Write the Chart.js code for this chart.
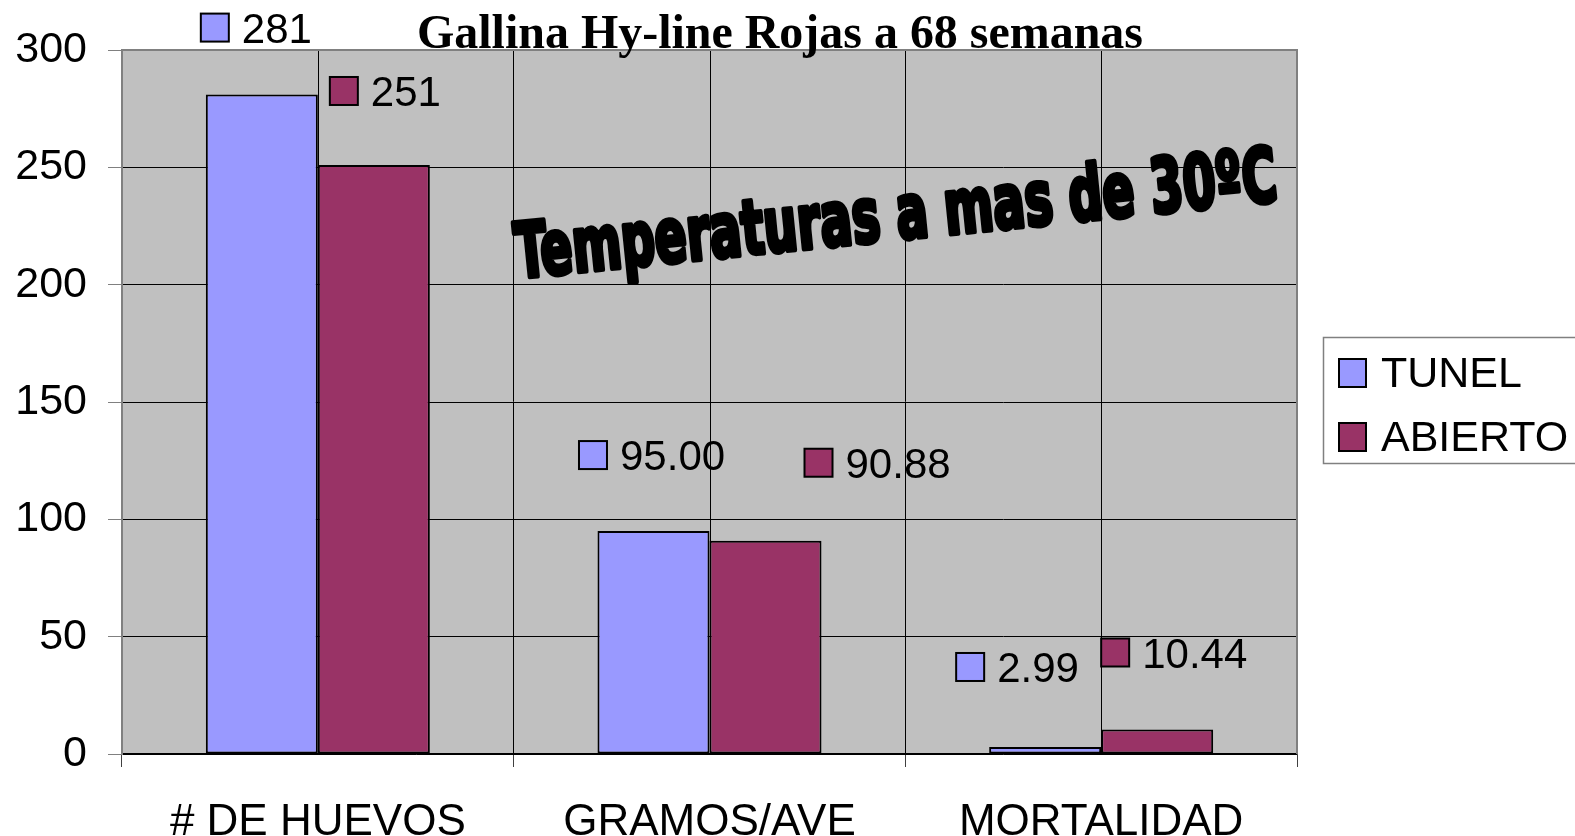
<!DOCTYPE html>
<html><head><meta charset="utf-8">
<script src="https://cdn.jsdelivr.net/npm/chart.js@4.4.1/dist/chart.umd.min.js"></script>
<style>html,body{margin:0;padding:0;background:#fff;}canvas{display:block;}</style>
</head><body>
<canvas id="c" width="1575" height="836"></canvas>
<script>
const categories = ['# DE HUEVOS', 'GRAMOS/AVE', 'MORTALIDAD'];
const seriesNames = ['TUNEL', 'ABIERTO'];
const tunelValues = [281, 95.00, 2.99];
const abiertoValues = [251, 90.88, 10.44];
const labelDecimals = [0, 2, 2];
const yTicks = [0, 50, 100, 150, 200, 250, 300];
const chartTitle = 'Gallina Hy-line Rojas a 68 semanas';
const annotationText = 'Temperaturas a mas de 30ºC';

const SANS = '"Liberation Sans", Arial, sans-serif';

const plotPlugin = {
  id: 'plotDeco',
  beforeDraw(chart) {
    const {ctx, chartArea: a} = chart;
    ctx.save();
    ctx.fillStyle = '#C0C0C0';
    ctx.fillRect(a.left, a.top, a.right - a.left, a.bottom - a.top);
    ctx.restore();
  },
  beforeDatasetsDraw(chart) {
    const {ctx, chartArea: a, scales: {x}} = chart;
    ctx.save();
    ctx.strokeStyle = '#000';
    ctx.lineWidth = 1;
    for (let i = 0; i < chart.data.labels.length; i++) {
      const px = Math.round(x.getPixelForTick(i)) + 0.5;
      ctx.beginPath(); ctx.moveTo(px, a.top); ctx.lineTo(px, a.bottom); ctx.stroke();
    }
    ctx.strokeStyle = '#808080';
    ctx.lineWidth = 2;
    ctx.beginPath();
    ctx.moveTo(a.left, a.top); ctx.lineTo(a.right, a.top); ctx.lineTo(a.right, a.bottom);
    ctx.stroke();
    ctx.restore();
  },
  afterDatasetsDraw(chart, args, opts) {
    const {ctx} = chart;
    ctx.save();
    // WordArt-like annotation
    const an = opts.annotation;
    ctx.font = 'bold 76px "Liberation Sans Narrow", "DejaVu Sans Condensed", ' + SANS;
    const w = ctx.measureText(annotationText).width;
    ctx.translate(an.x, an.y);
    ctx.rotate(an.angle * Math.PI / 180);
    ctx.scale(an.length / w, 1);
    ctx.fillStyle = '#000';
    ctx.strokeStyle = '#000';
    ctx.lineWidth = 5;
    ctx.lineJoin = 'round';
    ctx.textBaseline = 'alphabetic';
    ctx.fillText(annotationText, 0, -2);
    ctx.strokeText(annotationText, 0, -2);
    ctx.restore();

    // data labels with legend key
    ctx.save();
    chart.data.datasets.forEach((ds, di) => {
      const meta = chart.getDatasetMeta(di);
      meta.data.forEach((el, j) => {
        const off = opts.labelOffsets[di][j];
        const sx = el.x + off[0], sy = el.y + off[1];
        ctx.fillStyle = ds.backgroundColor;
        ctx.fillRect(sx, sy, 28, 28);
        ctx.strokeStyle = '#000';
        ctx.lineWidth = 2;
        ctx.strokeRect(sx, sy, 28, 28);
        ctx.fillStyle = '#000';
        ctx.font = '42px ' + SANS;
        ctx.textBaseline = 'alphabetic';
        ctx.textAlign = 'left';
        ctx.fillText(ds.data[j].toFixed(labelDecimals[j]), sx + 28 + 13, sy + 14 + 15);
      });
    });
    ctx.restore();
  },
  afterDraw(chart, args, opts) {
    const {ctx} = chart;
    ctx.save();
    // title
    ctx.font = 'bold 49px "Liberation Serif", "Times New Roman", serif';
    const tw = ctx.measureText(chartTitle).width;
    const t = opts.title;
    ctx.translate(t.cx, t.baseline);
    ctx.scale(t.width / tw, 1);
    ctx.fillStyle = '#000';
    ctx.textAlign = 'center';
    ctx.textBaseline = 'alphabetic';
    ctx.fillText(chartTitle, 0, 0);
    ctx.restore();

    // legend
    const L = opts.legend;
    ctx.save();
    ctx.fillStyle = '#fff';
    ctx.fillRect(L.x, L.y, L.w, L.h);
    ctx.strokeStyle = '#808080';
    ctx.lineWidth = 1.5;
    ctx.strokeRect(L.x + 0.5, L.y + 0.5, L.w, L.h);
    chart.data.datasets.forEach((ds, i) => {
      const sy = L.y + 22 + i * 64;
      ctx.fillStyle = ds.backgroundColor;
      ctx.fillRect(L.x + 16, sy, 27, 28);
      ctx.strokeStyle = '#000';
      ctx.lineWidth = 2;
      ctx.strokeRect(L.x + 16, sy, 27, 28);
      ctx.fillStyle = '#000';
      ctx.font = '43px ' + SANS;
      ctx.textBaseline = 'alphabetic';
      ctx.fillText(ds.label, L.x + 58, sy + 28);
    });
    ctx.restore();
  }
};

new Chart(document.getElementById('c'), {
  type: 'bar',
  data: {
    labels: categories,
    datasets: [
      {label: seriesNames[0], data: tunelValues, backgroundColor: '#9999FF', borderColor: '#000', borderWidth: 2, borderSkipped: false},
      {label: seriesNames[1], data: abiertoValues, backgroundColor: '#993366', borderColor: '#000', borderWidth: 2, borderSkipped: false}
    ]
  },
  options: {
    responsive: false,
    animation: false,
    events: [],
    categoryPercentage: 0.572,
    barPercentage: 1.0,
    layout: {padding: {left: 0, top: 50, right: 278, bottom: 0}},
    plugins: {
      legend: {display: false},
      title: {display: false},
      tooltip: {enabled: false},
      plotDeco: {
        labelOffsets: [
          [[-61, -81], [-74.5, -90], [-89, -94]],
          [[-44, -88], [39, -92], [-56, -91]]
        ],
        annotation: {x: 518, y: 280, angle: -5.8, length: 765},
        title: {cx: 780, baseline: 48, width: 726},
        legend: {x: 1323, y: 337, w: 280, h: 126}
      }
    },
    scales: {
      x: {
        type: 'category',
        offset: true,
        grid: {offset: true, color: '#000', lineWidth: 1, drawTicks: true, tickLength: 13, tickColor: '#404040'},
        border: {display: true, color: '#000', width: 1.5},
        ticks: {color: '#000', font: {family: SANS, size: 44}, padding: 29, maxRotation: 0, autoSkip: false},
        afterFit(scale) { scale.height = 82; }
      },
      y: {
        min: 0, max: 300,
        afterBuildTicks(scale) { scale.ticks = yTicks.map(v => ({value: v})); },
        grid: {color: (c) => (c.tick && c.tick.value === 300 ? '#808080' : '#000'), lineWidth: 1, tickLength: 14, tickColor: '#808080'},
        border: {display: true, color: '#808080', width: 2},
        ticks: {color: '#000', font: {family: SANS, size: 43}, padding: 21},
        afterFit(scale) { scale.width = 122; }
      }
    }
  },
  plugins: [plotPlugin]
});
</script>
</body></html>
